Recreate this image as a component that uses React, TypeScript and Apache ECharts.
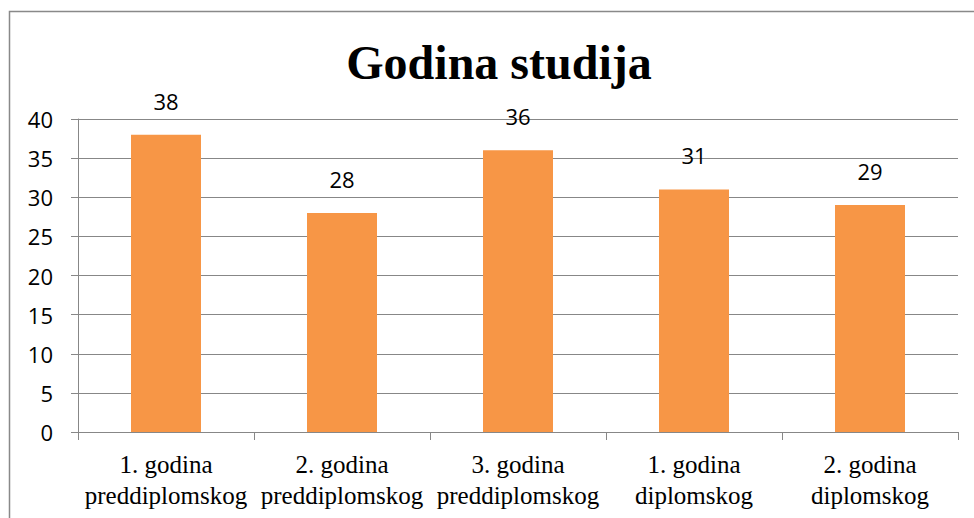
import React, { useEffect, useRef } from "react";
import * as echarts from "echarts";

const title = "Godina studija";
const categories = [
  "1. godina\npreddiplomskog",
  "2. godina\npreddiplomskog",
  "3. godina\npreddiplomskog",
  "1. godina\ndiplomskog",
  "2. godina\ndiplomskog",
];
const values = [38, 28, 36, 31, 29];
const yMin = 0;
const yMax = 40;
const yStep = 5;

export default function App() {
  const ref = useRef<HTMLDivElement>(null);
  useEffect(() => {
    if (!ref.current) return;
    const chart = echarts.init(ref.current, null, { renderer: "svg" });
    const serif = "'Liberation Serif', 'Times New Roman', serif";
    const sans = "'Open Sans', 'Noto Sans', sans-serif";
    chart.setOption({
      animation: false,
      backgroundColor: "#ffffff",
      title: {
        text: title,
        left: 494,
        textAlign: "center",
        top: 33,
        textStyle: { fontFamily: serif, fontWeight: "bold", fontSize: 48, color: "#000" },
      },
      graphic: [
        {
          type: "rect",
          shape: { x: 9.5, y: 11.5, width: 1000, height: 600 },
          style: { fill: "none", stroke: "#898989", lineWidth: 1.5 },
          silent: true,
        },
      ],
      grid: { left: 78, right: 16, top: 119, bottom: 86, containLabel: false },
      xAxis: {
        type: "category",
        data: categories,
        axisLine: { show: true, lineStyle: { color: "#878787", width: 1 } },
        axisTick: { show: true, length: 8, alignWithLabel: false, lineStyle: { color: "#878787" } },
        axisLabel: {
          margin: 17,
          fontFamily: serif,
          fontSize: 25,
          color: "#000",
          lineHeight: 31,
          interval: 0,
        },
      },
      yAxis: {
        type: "value",
        min: yMin,
        max: yMax,
        interval: yStep,
        axisLine: { show: true, lineStyle: { color: "#878787", width: 1 } },
        axisTick: { show: true, length: 7, lineStyle: { color: "#878787" } },
        axisLabel: { margin: 25, fontFamily: sans, fontSize: 22, color: "#000" },
        splitLine: { show: true, lineStyle: { color: "#878787", width: 1 } },
      },
      series: [
        {
          type: "bar",
          data: values,
          barWidth: 70,
          itemStyle: { color: "#F79646" },
          label: {
            show: true,
            position: "top",
            distance: 23,
            fontFamily: sans,
            fontSize: 22,
            color: "#000",
          },
        },
      ],
    });
    return () => chart.dispose();
  }, []);
  return (
    <div
      ref={ref}
      style={{ position: "fixed", left: 0, top: 0, width: 974, height: 518 }}
    />
  );
}
